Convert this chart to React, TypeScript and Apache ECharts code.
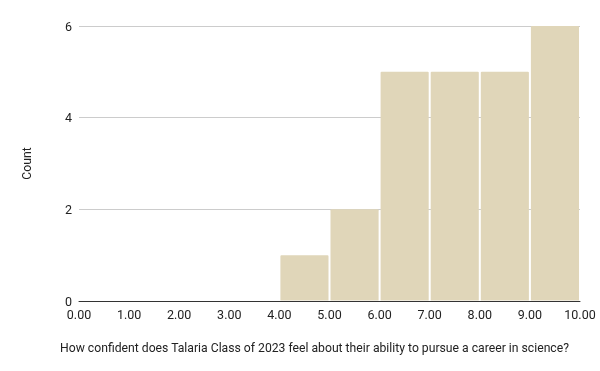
import React, { useEffect, useRef } from "react";
import * as echarts from "echarts";

const binStarts = [0, 1, 2, 3, 4, 5, 6, 7, 8, 9];
const binEnds = [1, 2, 3, 4, 5, 6, 7, 8, 9, 10];
const counts = [0, 0, 0, 0, 1, 2, 5, 5, 5, 6];
const yTicks = [0, 2, 4, 6];
const xTitle = "How confident does Talaria Class of 2023 feel about their ability to pursue a career in science?";
const yTitle = "Count";

export default function App() {
  const ref = useRef<HTMLDivElement>(null);
  useEffect(() => {
    if (!ref.current) return;
    const chart = echarts.init(ref.current, null, { renderer: "svg" });
    const data = binStarts
      .map((s, i) => [s, binEnds[i], counts[i]])
      .filter((d) => d[2] > 0);
    chart.setOption({
      animation: false,
      textStyle: { fontFamily: "Roboto" },
      grid: { left: 79, right: 20, top: 26, bottom: 70 },
      xAxis: {
        type: "value",
        min: 0,
        max: 10,
        interval: 1,
        name: xTitle,
        nameLocation: "middle",
        nameGap: 41,
        nameTextStyle: {
          color: "#222",
          fontSize: 12.2,
          fontFamily: "Roboto",
          padding: [0, 30, 0, 0],
        },
        axisLine: { show: true, lineStyle: { color: "#333", width: 1 } },
        axisTick: { show: false },
        splitLine: { show: false },
        axisLabel: {
          color: "#222",
          fontSize: 12.5,
          margin: 7,
          formatter: (v: number) => v.toFixed(2),
        },
      },
      yAxis: {
        type: "value",
        min: 0,
        max: yTicks[yTicks.length - 1],
        interval: 2,
        name: yTitle,
        nameLocation: "middle",
        nameGap: 46,
        nameRotate: 90,
        nameTextStyle: { color: "#222", fontSize: 12.2, fontFamily: "Roboto" },
        axisLine: { show: false },
        axisTick: { show: false },
        splitLine: { lineStyle: { color: "#cccccc", width: 1 } },
        axisLabel: { color: "#222", fontSize: 12.5, margin: 7 },
      },
      series: [
        {
          type: "custom",
          data,
          encode: { x: [0, 1], y: 2 },
          renderItem: (params: any, api: any) => {
            const p0 = api.coord([api.value(0), api.value(2)]);
            const p1 = api.coord([api.value(1), 0]);
            return {
              type: "rect",
              shape: {
                x: p0[0] + 1,
                y: p0[1],
                width: p1[0] - p0[0] - 2,
                height: p1[1] - p0[1] - 0.5,
                r: [1, 1, 0, 0],
              },
              style: { fill: "#e0d6b9" },
            };
          },
        },
      ],
    });
    return () => chart.dispose();
  }, []);
  return (
    <div
      ref={ref}
      style={{ position: "fixed", left: 0, top: 0, width: 600, height: 371 }}
    />
  );
}
